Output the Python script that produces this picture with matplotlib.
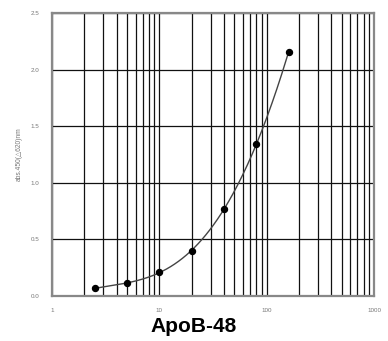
import numpy as np
import matplotlib
matplotlib.use("Agg")
import matplotlib.pyplot as plt
from matplotlib.ticker import LogLocator, FixedLocator

# standard curve, ApoB-48 (ng/mL) vs absorbance
conc = [2.5, 5, 10, 20, 40, 80, 160]
absorb = [0.068, 0.112, 0.212, 0.400, 0.766, 1.34, 2.155]
xticks = [1, 10, 100, 1000]
xticklabels = ["1", "10", "100", "1000"]
yticks = [0.0, 0.5, 1.0, 1.5, 2.0, 2.5]

plt.rcParams['font.family'] = ['Liberation Sans', 'DejaVu Sans']

fig = plt.figure(figsize=(3.88, 3.41), dpi=100)
ax = fig.add_axes([52/388, 1 - 296/341, 322/388, 283/341])

# smooth line through the points (polynomial in log-x)
lx = np.log10(conc)
coef = np.polyfit(lx, absorb, 4)
xs = np.linspace(lx[0], lx[-1], 200)
ax.plot(10**xs, np.polyval(coef, xs), color="#444444", lw=1.0, zorder=3)
ax.plot(conc, absorb, "o", color="black", ms=4.3, zorder=4)

ax.set_xscale("log")
ax.set_xlim(1, 1000)
ax.set_ylim(0, 2.5)
ax.xaxis.set_major_locator(FixedLocator(xticks))
ax.set_xticklabels(xticklabels)
ax.xaxis.set_minor_locator(LogLocator(base=10, subs=np.arange(2, 10)))
ax.xaxis.set_minor_formatter(plt.NullFormatter())
ax.set_yticks(yticks)
ax.set_yticklabels(["%.1f" % v for v in yticks])

ax.grid(True, which="both", axis="x", color="#111111", lw=0.9)
ax.grid(True, which="major", axis="y", color="#111111", lw=0.9)
ax.tick_params(which="both", length=0, labelsize=4.5, labelcolor="#777777")
ax.tick_params(axis="x", pad=9)
ax.tick_params(axis="y", pad=9)
for s in ax.spines.values():
    s.set_color("#888888")
    s.set_linewidth(1.6)

ax.set_ylabel("abs.450(\u25b3620)nm", fontsize=4.8, color="#777777", labelpad=6)
fig.text(0.5, 1 - 327/341, "ApoB-48", ha="center", va="center",
         fontsize=15, fontweight="bold")

fig.savefig("out.png", dpi=100)
